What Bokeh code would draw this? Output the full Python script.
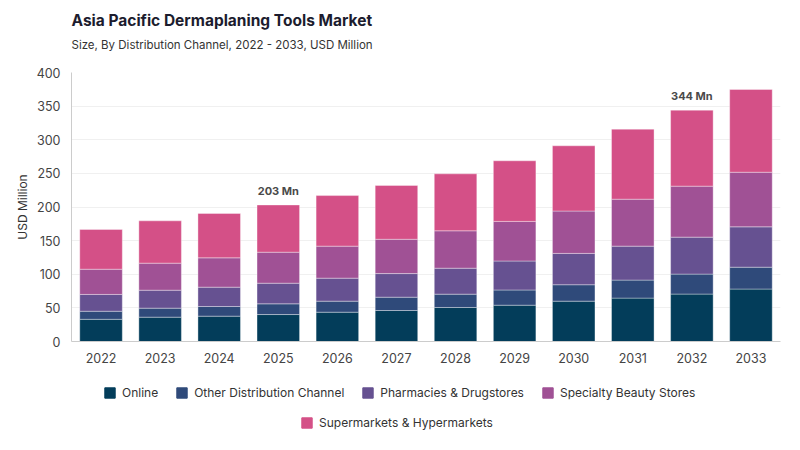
from bokeh.plotting import figure
from bokeh.models import Title, Legend, LegendItem, ColumnDataSource, FactorRange, Range1d
from bokeh.core.properties import value
from bokeh.embed import file_html
from bokeh.resources import INLINE

years = ["2022", "2023", "2024", "2025", "2026", "2027", "2028", "2029", "2030", "2031", "2032", "2033"]
online = [33.0, 36.2, 37.7, 40.1, 43.6, 46.1, 50.6, 54.0, 60.0, 64.5, 70.5, 78.0]
other = [12.0, 13.4, 14.3, 15.9, 16.4, 19.8, 19.8, 22.6, 24.4, 26.8, 29.7, 32.5]
pharmacies = [25.0, 26.7, 28.8, 30.7, 34.2, 35.1, 38.6, 43.1, 46.6, 50.5, 55.0, 60.0]
specialty = [37.5, 40.2, 43.6, 46.1, 47.6, 51.0, 55.6, 58.9, 63.0, 69.8, 75.8, 81.2]
supermarkets = [59.0, 62.9, 65.9, 70.2, 75.2, 80.0, 84.7, 90.1, 97.0, 104.1, 113.0, 123.0]

series_keys = ["online", "other", "pharmacies", "specialty", "supermarkets"]
series_names = ["Online", "Other Distribution Channel", "Pharmacies & Drugstores",
                "Specialty Beauty Stores", "Supermarkets & Hypermarkets"]
colors = ["#033d5a", "#2f4a7a", "#665191", "#a05195", "#d45087"]

label_years = ["2025", "2032"]

FONT = "Inter"

src = ColumnDataSource(dict(years=years, online=online, other=other, pharmacies=pharmacies,
                            specialty=specialty, supermarkets=supermarkets))

p = figure(frame_width=709, frame_height=269, x_range=FactorRange(*years), y_range=Range1d(0, 400),
           output_backend="svg", toolbar_location=None, title=None,
           min_border_left=71, min_border_right=12, min_border_top=72, min_border_bottom=30)

renderers = p.vbar_stack(series_keys, x="years", width=0.72, source=src, color=colors,
                         line_color="white", line_width=0.6, line_alpha=0.6)

totals = [a + b + c + d + e for a, b, c, d, e in zip(online, other, pharmacies, specialty, supermarkets)]
lab_tot = [totals[years.index(y)] for y in label_years]
lab_src = ColumnDataSource(dict(x=label_years, y=lab_tot, t=[f"{round(v)} Mn" for v in lab_tot]))
p.text(x="x", y="y", text="t", source=lab_src, text_align="center", text_baseline="bottom",
       y_offset=-7, text_font=value(FONT), text_font_size="11px", text_font_style="bold",
       text_color="#4a4a4a")

# axes
p.yaxis.ticker = [0, 50, 100, 150, 200, 250, 300, 350, 400]
p.yaxis.axis_label = "USD Million"
p.yaxis.axis_label_text_font = FONT
p.yaxis.axis_label_text_font_size = "12px"
p.yaxis.axis_label_text_font_style = "normal"
p.yaxis.axis_label_text_color = "#333333"
p.yaxis.axis_label_standoff = 4
for ax in (p.xaxis, p.yaxis):
    ax.major_label_text_font = FONT
    ax.major_label_text_font_size = "12.5px"
    ax.major_label_text_color = "#444444"
    ax.major_tick_line_color = None
    ax.minor_tick_line_color = None
    ax.axis_line_color = "#cccccc"
p.xaxis.major_label_standoff = 5
p.yaxis.major_label_standoff = 5
p.xgrid.grid_line_color = None
p.ygrid.grid_line_color = "#f0f0f0"
p.outline_line_color = None
p.x_range.range_padding = 0.0
p.x_range.group_padding = 0.0
p.x_range.factor_padding = 0.0

# titles (spacer first, then subtitle, then main title)
p.add_layout(Title(text=" ", text_font_size="1px", offset=0, standoff=14), "above")
p.add_layout(Title(text="Size, By Distribution Channel, 2022 - 2033, USD Million",
                   text_font=FONT, text_font_size="11.5px", text_font_style="normal",
                   text_color="#333333", offset=0, standoff=7), "above")
p.add_layout(Title(text="Asia Pacific Dermaplaning Tools Market",
                   text_font=FONT, text_font_size="15.5px", text_font_style="bold",
                   text_color="#1c1c2e", offset=0, standoff=5), "above")

# legend figure below the chart
lf = figure(width=792, height=71, x_range=Range1d(0, 1), y_range=Range1d(0, 1),
            output_backend="svg", toolbar_location=None, title=None,
            x_axis_type=None, y_axis_type=None,
            min_border_left=0, min_border_right=0, min_border_top=0, min_border_bottom=0)
lf.outline_line_color = None
lf.xgrid.grid_line_color = None
lf.ygrid.grid_line_color = None
dummies = [lf.vbar(x=[-10], top=[-10], width=0.1, color=c) for c in colors]
items = [LegendItem(label=n, renderers=[r]) for n, r in zip(series_names, dummies)]

def mk_legend(its, loc):
    return Legend(items=its, orientation="horizontal", location=loc,
                  glyph_width=13, glyph_height=13, label_standoff=6, spacing=17,
                  padding=0, margin=0, border_line_color=None, background_fill_alpha=0,
                  label_text_font=FONT, label_text_font_size="12px", label_text_color="#333333")

lf.add_layout(mk_legend(items[:4], (103, 42)))
lf.add_layout(mk_legend(items[4:], (300, 12)))

open("out.html", "w").write(file_html([p, lf], INLINE))
